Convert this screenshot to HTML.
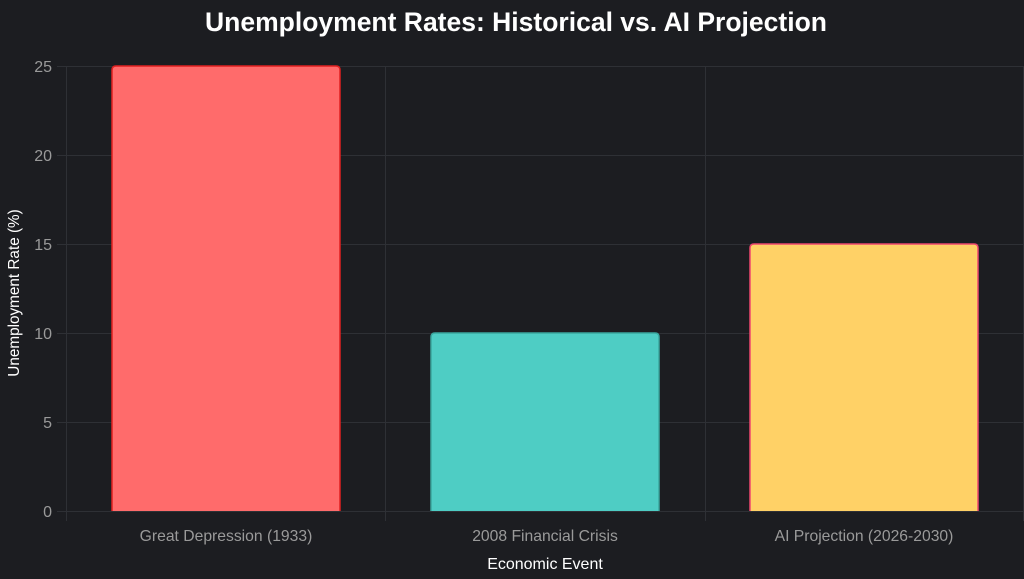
<!DOCTYPE html>
<html><head><meta charset="utf-8"><style>
html,body{margin:0;padding:0;background:#1c1d21;}
svg{display:block;}
</style></head><body>
<svg width="1024" height="579" xmlns="http://www.w3.org/2000/svg" font-family="Liberation Sans, Arial, sans-serif">
<rect width="1024" height="579" fill="#1c1d21"/>
<text x="516" y="31" text-anchor="middle" font-size="26.5" font-weight="bold" fill="#ffffff">Unemployment Rates: Historical vs. AI Projection</text>
<g stroke="#2e3035" stroke-width="1">
<line x1="57" y1="66.5" x2="1024" y2="66.5"/>
<line x1="57" y1="155.5" x2="1024" y2="155.5"/>
<line x1="57" y1="244.5" x2="1024" y2="244.5"/>
<line x1="57" y1="333.5" x2="1024" y2="333.5"/>
<line x1="57" y1="422.5" x2="1024" y2="422.5"/>
<line x1="57" y1="511.5" x2="1024" y2="511.5"/>
<line x1="66.5" y1="66" x2="66.5" y2="521"/>
<line x1="385.5" y1="66" x2="385.5" y2="521"/>
<line x1="705.5" y1="66" x2="705.5" y2="521"/>
<line x1="1023.5" y1="66" x2="1023.5" y2="521"/>
</g>
<g font-size="16" fill="#9a9a9a" text-anchor="end">
<text x="52" y="72">25</text><text x="52" y="161">20</text><text x="52" y="250">15</text>
<text x="52" y="339">10</text><text x="52" y="428">5</text><text x="52" y="517">0</text>
</g>
<path d="M112,511 V70 Q112,66 116,66 H336 Q340,66 340,70 V511" fill="#ff6b6b" stroke="#e02020" stroke-width="1.5"/>
<path d="M431,511 V337 Q431,333 435,333 H655 Q659,333 659,337 V511" fill="#4ecdc4" stroke="#3aa89f" stroke-width="1.5"/>
<path d="M750,511 V248 Q750,244 754,244 H974 Q978,244 978,248 V511" fill="#ffd166" stroke="#ef476f" stroke-width="1.5"/>
<g font-size="15.7" fill="#9a9a9a" text-anchor="middle">
<text x="226" y="541">Great Depression (1933)</text>
<text x="545" y="541">2008 Financial Crisis</text>
<text x="864" y="541">AI Projection (2026-2030)</text>
</g>
<text x="545" y="569" text-anchor="middle" font-size="16" fill="#ffffff">Economic Event</text>
<text transform="translate(19,293) rotate(-90)" text-anchor="middle" font-size="15.3" fill="#ffffff">Unemployment Rate (%)</text>
</svg>
</body></html>
